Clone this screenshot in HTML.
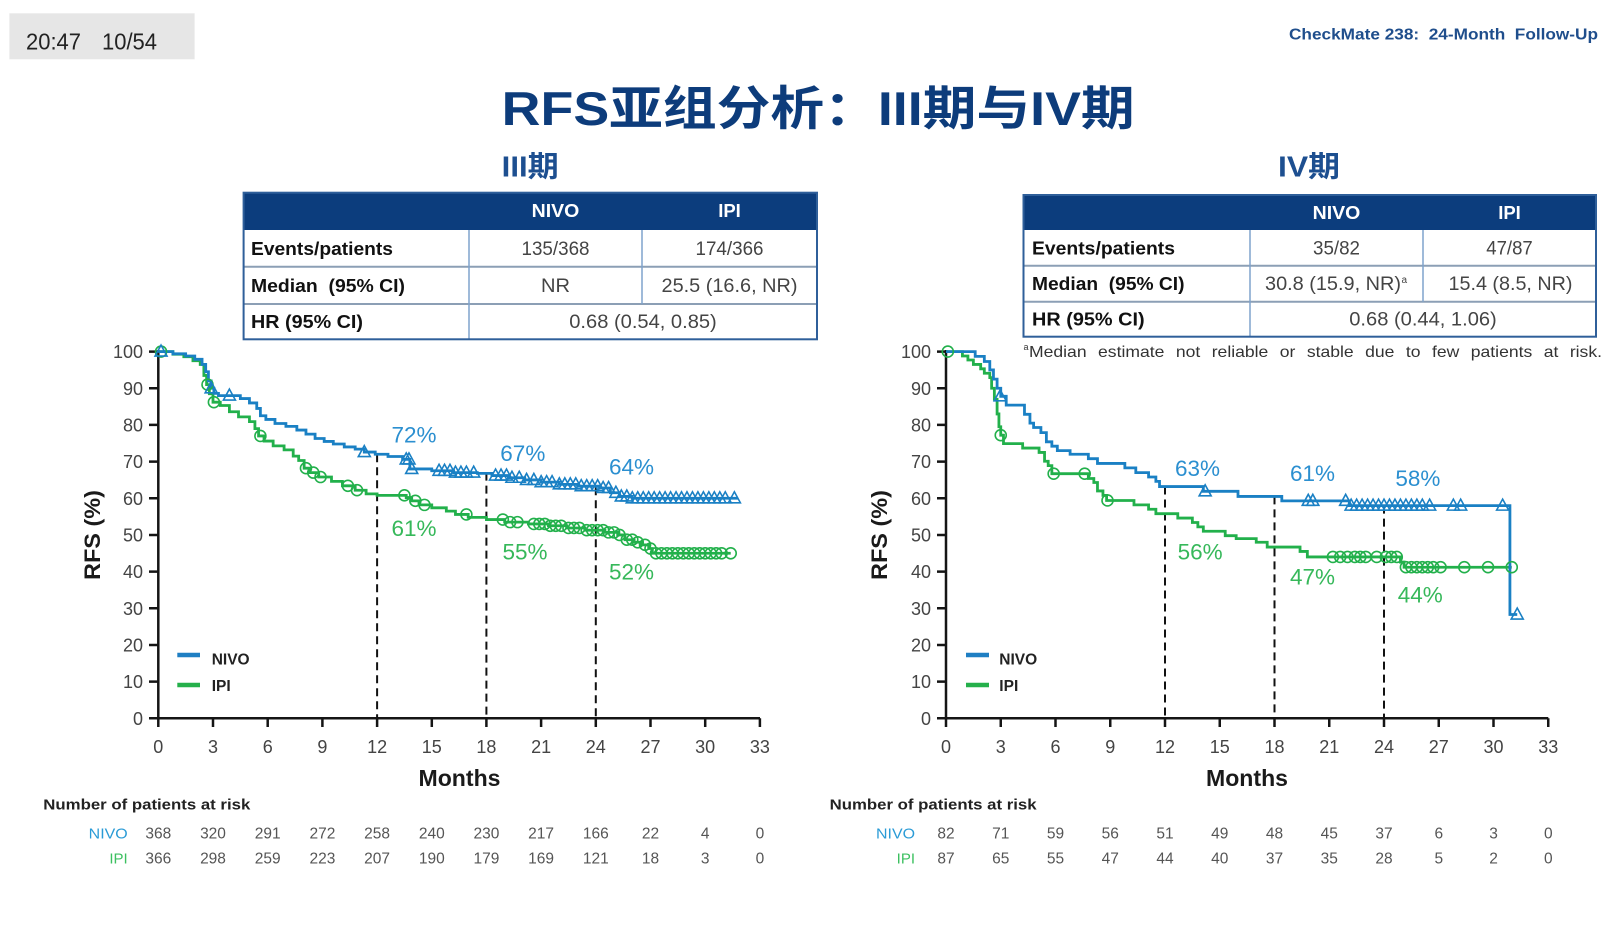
<!DOCTYPE html>
<html><head><meta charset="utf-8"><style>
html,body{margin:0;padding:0;background:#fff;}
body{width:1612px;height:931px;overflow:hidden;}
svg{display:block;}
text{font-family:"Liberation Sans","Noto Sans CJK SC",sans-serif;}
</style></head><body>
<svg width="1612" height="931" viewBox="0 0 1612 931" xmlns="http://www.w3.org/2000/svg">
<defs>
<path id="tri" d="M0,-6.5 L6,4.5 L-6,4.5 Z" fill="none" stroke="#1a80c4" stroke-width="1.6"/>
<circle id="cir" r="5.5" fill="none" stroke="#22b04b" stroke-width="1.6"/>
</defs>
<rect width="1612" height="931" fill="#fff"/>

<!-- top-left badge -->
<rect x="9.4" y="13.3" width="185.2" height="46" fill="#e6e6e6"/>
<text x="26" y="49.3" font-size="23" fill="#222" textLength="55" lengthAdjust="spacingAndGlyphs">20:47</text>
<text x="102" y="49.3" font-size="23" fill="#222" textLength="55" lengthAdjust="spacingAndGlyphs">10/54</text>

<!-- header -->
<text x="1289" y="39.5" font-size="15.5" font-weight="bold" fill="#1f4e8c" textLength="309" lengthAdjust="spacingAndGlyphs" style="white-space:pre">CheckMate 238:  24-Month  Follow-Up</text>

<!-- title -->
<text x="501.7" y="125" font-size="47" font-weight="bold" fill="#0d3c7b" textLength="633" lengthAdjust="spacingAndGlyphs">RFS亚组分析：III期与IV期</text>
<text x="501.7" y="176.5" font-size="29" font-weight="bold" fill="#1d4f90" textLength="57" lengthAdjust="spacingAndGlyphs">III期</text>
<text x="1278" y="176.5" font-size="29" font-weight="bold" fill="#1d4f90" textLength="62" lengthAdjust="spacingAndGlyphs">IV期</text>

<!-- LEFT TABLE -->
<rect x="243.6" y="192.7" width="573.4" height="37.3" fill="#0c3d7d"/>
<line x1="243.6" y1="266.7" x2="817" y2="266.7" stroke="#8c9fb5" stroke-width="2"/>
<line x1="243.6" y1="304" x2="817" y2="304" stroke="#8c9fb5" stroke-width="2"/>
<line x1="469" y1="230" x2="469" y2="339.3" stroke="#7fa3cc" stroke-width="1.5"/>
<line x1="642" y1="230" x2="642" y2="304" stroke="#7fa3cc" stroke-width="1.5"/>
<rect x="243.6" y="192.7" width="573.4" height="146.6" fill="none" stroke="#2f5f9a" stroke-width="2"/>
<text x="555.5" y="217" font-size="18.5" font-weight="bold" fill="#fff" text-anchor="middle" textLength="47.7" lengthAdjust="spacingAndGlyphs">NIVO</text>
<text x="729.5" y="217" font-size="18.5" font-weight="bold" fill="#fff" text-anchor="middle">IPI</text>
<text x="251" y="254.8" font-size="18" font-weight="bold" fill="#111" textLength="142" lengthAdjust="spacingAndGlyphs">Events/patients</text>
<text x="251" y="291.9" font-size="18" font-weight="bold" fill="#111" textLength="154" lengthAdjust="spacingAndGlyphs" style="white-space:pre">Median  (95% CI)</text>
<text x="251" y="328.2" font-size="18" font-weight="bold" fill="#111" textLength="112" lengthAdjust="spacingAndGlyphs">HR (95% CI)</text>
<g font-size="19.5" fill="#444" text-anchor="middle">
<text x="555.5" y="254.8" textLength="68" lengthAdjust="spacingAndGlyphs">135/368</text>
<text x="729.5" y="254.8" textLength="68" lengthAdjust="spacingAndGlyphs">174/366</text>
<text x="555.5" y="291.9" textLength="29" lengthAdjust="spacingAndGlyphs">NR</text>
<text x="729.5" y="291.9" textLength="136" lengthAdjust="spacingAndGlyphs">25.5 (16.6, NR)</text>
<text x="643" y="328.2" textLength="147.5" lengthAdjust="spacingAndGlyphs">0.68 (0.54, 0.85)</text>
</g>

<!-- RIGHT TABLE -->
<rect x="1023.5" y="195" width="572.5" height="35" fill="#0c3d7d"/>
<line x1="1023.5" y1="265.7" x2="1596" y2="265.7" stroke="#8c9fb5" stroke-width="2"/>
<line x1="1023.5" y1="301.7" x2="1596" y2="301.7" stroke="#8c9fb5" stroke-width="2"/>
<line x1="1250" y1="230" x2="1250" y2="336.7" stroke="#7fa3cc" stroke-width="1.5"/>
<line x1="1423" y1="230" x2="1423" y2="301.7" stroke="#7fa3cc" stroke-width="1.5"/>
<rect x="1023.5" y="195" width="572.5" height="141.7" fill="none" stroke="#2f5f9a" stroke-width="2"/>
<text x="1336.5" y="219" font-size="18.5" font-weight="bold" fill="#fff" text-anchor="middle" textLength="47.7" lengthAdjust="spacingAndGlyphs">NIVO</text>
<text x="1509.5" y="219" font-size="18.5" font-weight="bold" fill="#fff" text-anchor="middle">IPI</text>
<text x="1032" y="254.4" font-size="18" font-weight="bold" fill="#111" textLength="143" lengthAdjust="spacingAndGlyphs">Events/patients</text>
<text x="1032" y="290.2" font-size="18" font-weight="bold" fill="#111" textLength="152.5" lengthAdjust="spacingAndGlyphs" style="white-space:pre">Median  (95% CI)</text>
<text x="1032" y="325.7" font-size="18" font-weight="bold" fill="#111" textLength="112.6" lengthAdjust="spacingAndGlyphs">HR (95% CI)</text>
<g font-size="19.5" fill="#444" text-anchor="middle">
<text x="1336.5" y="254.4" textLength="47" lengthAdjust="spacingAndGlyphs">35/82</text>
<text x="1509.5" y="254.4" textLength="46.5" lengthAdjust="spacingAndGlyphs">47/87</text>
<text x="1333" y="290.2" textLength="136" lengthAdjust="spacingAndGlyphs">30.8 (15.9, NR)</text>
<text x="1401.5" y="283" font-size="10" text-anchor="start">a</text>
<text x="1510.5" y="290.2" textLength="124" lengthAdjust="spacingAndGlyphs">15.4 (8.5, NR)</text>
<text x="1423" y="325.7" textLength="147.5" lengthAdjust="spacingAndGlyphs">0.68 (0.44, 1.06)</text>
</g>
<text x="1023.5" y="350" font-size="9" fill="#333">a</text>
<text x="1029" y="357" font-size="16" fill="#333" word-spacing="6" textLength="573" lengthAdjust="spacingAndGlyphs">Median estimate not reliable or stable due to few patients at risk.</text>

<!-- ================= LEFT CHART ================= -->
<g stroke="#151515" stroke-width="2.5" fill="none">
<line x1="158.3" y1="350" x2="158.3" y2="719.5"/>
<line x1="157" y1="718.3" x2="760" y2="718.3"/>
<path d="M149,718.3H158.3M149,681.6H158.3M149,645H158.3M149,608.3H158.3M149,571.6H158.3M149,535H158.3M149,498.3H158.3M149,461.6H158.3M149,424.9H158.3M149,388.3H158.3M149,351.6H158.3"/>
<path d="M158.3,718.3V727M213,718.3V727M267.7,718.3V727M322.4,718.3V727M377.1,718.3V727M431.8,718.3V727M486.4,718.3V727M541.1,718.3V727M595.8,718.3V727M650.5,718.3V727M705.2,718.3V727M759.9,718.3V727"/>
</g>
<g stroke="#111" stroke-width="2" stroke-dasharray="8,5">
<line x1="377.1" y1="454.3" x2="377.1" y2="718"/>
<line x1="486.4" y1="472.6" x2="486.4" y2="718"/>
<line x1="595.8" y1="487.3" x2="595.8" y2="718"/>
</g>
<g font-size="18" fill="#444" text-anchor="end">
<text x="143" y="724.8">0</text><text x="143" y="688.1">10</text><text x="143" y="651.5">20</text><text x="143" y="614.8">30</text><text x="143" y="578.1">40</text><text x="143" y="541.5">50</text><text x="143" y="504.8">60</text><text x="143" y="468.1">70</text><text x="143" y="431.4">80</text><text x="143" y="394.8">90</text><text x="143" y="358.1">100</text>
</g>
<g font-size="18" fill="#444" text-anchor="middle">
<text x="158.3" y="753">0</text><text x="213" y="753">3</text><text x="267.7" y="753">6</text><text x="322.4" y="753">9</text><text x="377.1" y="753">12</text><text x="431.8" y="753">15</text><text x="486.4" y="753">18</text><text x="541.1" y="753">21</text><text x="595.8" y="753">24</text><text x="650.5" y="753">27</text><text x="705.2" y="753">30</text><text x="759.9" y="753">33</text>
</g>
<text x="459.5" y="786" font-size="23.5" font-weight="bold" fill="#1a1a1a" text-anchor="middle" textLength="82" lengthAdjust="spacingAndGlyphs">Months</text>
<text transform="translate(100,535) rotate(-90)" font-size="22" font-weight="bold" fill="#1a1a1a" text-anchor="middle" textLength="90" lengthAdjust="spacingAndGlyphs">RFS (%)</text>
<!-- legend -->
<line x1="177.3" y1="655" x2="200" y2="655" stroke="#1f7fc3" stroke-width="4.5"/>
<line x1="177.3" y1="685" x2="200" y2="685" stroke="#25b04b" stroke-width="4.5"/>
<text x="211.7" y="664.5" font-size="15.5" font-weight="bold" fill="#222">NIVO</text>
<text x="211.7" y="691" font-size="15.5" font-weight="bold" fill="#222">IPI</text>

<g transform="translate(158.3,718.3) scale(18.23,-3.667)">
<path vector-effect="non-scaling-stroke" fill="none" stroke="#22b04b" stroke-width="2.8" d="M0,100 H0.8 V99.3 H1.4 V98.6 H1.9 V97.5 H2.3 V96.5 H2.5 V93.5 H2.65 V91 H2.8 V88.5 H3.0 V86.2 H3.4 V85.3 H3.9 V83.6 H4.4 V82.2 H5.0 V80.9 H5.3 V79 H5.5 V77 H5.8 V75.6 H6.3 V74.3 H6.9 V73.2 H7.4 V71.5 H7.7 V70.3 H8.0 V68.2 H8.3 V67 H8.8 V65.8 H9.5 V64.6 H10.1 V63.4 H10.8 V62.2 H11.4 V61.2 H12.0 V60.8 H13.6 V60.2 H13.9 V59.3 H14.3 V58.2 H15.0 V57.4 H15.8 V56.5 H16.3 V55.6 H17.0 V54.8 H18.0 V54.2 H19.0 V53.5 H20.3 V53 H21.4 V52.5 H22.4 V51.9 H23.4 V51.3 H24.5 V50.7 H25.2 V50.0 H25.6 V48.7 H26.1 V48 H26.5 V47.3 H26.9 V46.3 H27.1 V45 H31.4"/>
<path vector-effect="non-scaling-stroke" fill="none" stroke="#1a80c4" stroke-width="2.8" d="M0,100 H0.8 V99.4 H1.5 V98.8 H2.0 V97.9 H2.4 V96.5 H2.6 V94.5 H2.75 V92 H2.9 V90 H3.05 V88.6 H3.3 V88 H4.5 V87.2 H5.0 V86 H5.4 V84.5 H5.6 V82.5 H5.9 V81.5 H6.4 V80.4 H7.0 V79.6 H7.6 V78.6 H8.1 V77.5 H8.6 V76.3 H9.1 V75.5 H9.6 V74.8 H10.2 V74 H10.8 V73.4 H11.3 V72.6 H11.9 V72 H12.6 V71.4 H13.4 V70.6 H13.8 V68.0 H15.0 V67.5 H16.2 V67 H17.5 V66.8 H18.3 V66.2 H19.2 V65.6 H20.1 V65 H21.0 V64.4 H22.0 V63.8 H23.0 V63.3 H24.2 V62.8 H24.8 V61.5 H25.3 V60.5 H26 V60 H31.8"/>
<!-- IPI circles -->
<use href="#cir" transform="translate(0.15,100) scale(.054855,-.272703)"/>
<use href="#cir" transform="translate(2.7,91) scale(.054855,-.272703)"/>
<use href="#cir" transform="translate(3.05,86.2) scale(.054855,-.272703)"/>
<use href="#cir" transform="translate(5.6,77) scale(.054855,-.272703)"/>
<use href="#cir" transform="translate(8.1,68.2) scale(.054855,-.272703)"/>
<use href="#cir" transform="translate(8.5,67) scale(.054855,-.272703)"/>
<use href="#cir" transform="translate(8.9,65.8) scale(.054855,-.272703)"/>
<use href="#cir" transform="translate(10.4,63.4) scale(.054855,-.272703)"/>
<use href="#cir" transform="translate(10.9,62.2) scale(.054855,-.272703)"/>
<use href="#cir" transform="translate(13.5,60.8) scale(.054855,-.272703)"/>
<use href="#cir" transform="translate(14.1,59.3) scale(.054855,-.272703)"/>
<use href="#cir" transform="translate(14.6,58.2) scale(.054855,-.272703)"/>
<use href="#cir" transform="translate(16.9,55.6) scale(.054855,-.272703)"/>
<use href="#cir" transform="translate(18.9,54.2) scale(.054855,-.272703)"/>
<use href="#cir" transform="translate(19.3,53.5) scale(.054855,-.272703)"/>
<use href="#cir" transform="translate(19.7,53.5) scale(.054855,-.272703)"/>
<use href="#cir" transform="translate(20.6,53) scale(.054855,-.272703)"/>
<use href="#cir" transform="translate(20.9,53) scale(.054855,-.272703)"/>
<use href="#cir" transform="translate(21.2,53) scale(.054855,-.272703)"/>
<use href="#cir" transform="translate(21.5,52.5) scale(.054855,-.272703)"/>
<use href="#cir" transform="translate(21.8,52.5) scale(.054855,-.272703)"/>
<use href="#cir" transform="translate(22.1,52.5) scale(.054855,-.272703)"/>
<use href="#cir" transform="translate(22.5,51.9) scale(.054855,-.272703)"/>
<use href="#cir" transform="translate(22.8,51.9) scale(.054855,-.272703)"/>
<use href="#cir" transform="translate(23.1,51.9) scale(.054855,-.272703)"/>
<use href="#cir" transform="translate(23.5,51.3) scale(.054855,-.272703)"/>
<use href="#cir" transform="translate(23.8,51.3) scale(.054855,-.272703)"/>
<use href="#cir" transform="translate(24.1,51.3) scale(.054855,-.272703)"/>
<use href="#cir" transform="translate(24.4,51.3) scale(.054855,-.272703)"/>
<use href="#cir" transform="translate(24.7,50.7) scale(.054855,-.272703)"/>
<use href="#cir" transform="translate(25.0,50.7) scale(.054855,-.272703)"/>
<use href="#cir" transform="translate(25.3,50) scale(.054855,-.272703)"/>
<use href="#cir" transform="translate(25.7,48.7) scale(.054855,-.272703)"/>
<use href="#cir" transform="translate(26.0,48.7) scale(.054855,-.272703)"/>
<use href="#cir" transform="translate(26.3,48) scale(.054855,-.272703)"/>
<use href="#cir" transform="translate(26.7,47.3) scale(.054855,-.272703)"/>
<use href="#cir" transform="translate(27.0,46.3) scale(.054855,-.272703)"/>
<use href="#cir" transform="translate(27.3,45) scale(.054855,-.272703)"/>
<use href="#cir" transform="translate(27.6,45) scale(.054855,-.272703)"/>
<use href="#cir" transform="translate(27.9,45) scale(.054855,-.272703)"/>
<use href="#cir" transform="translate(28.2,45) scale(.054855,-.272703)"/>
<use href="#cir" transform="translate(28.5,45) scale(.054855,-.272703)"/>
<use href="#cir" transform="translate(28.8,45) scale(.054855,-.272703)"/>
<use href="#cir" transform="translate(29.1,45) scale(.054855,-.272703)"/>
<use href="#cir" transform="translate(29.4,45) scale(.054855,-.272703)"/>
<use href="#cir" transform="translate(29.7,45) scale(.054855,-.272703)"/>
<use href="#cir" transform="translate(30.0,45) scale(.054855,-.272703)"/>
<use href="#cir" transform="translate(30.3,45) scale(.054855,-.272703)"/>
<use href="#cir" transform="translate(30.6,45) scale(.054855,-.272703)"/>
<use href="#cir" transform="translate(30.9,45) scale(.054855,-.272703)"/>
<use href="#cir" transform="translate(31.4,45) scale(.054855,-.272703)"/>
<!-- NIVO triangles -->
<use href="#tri" transform="translate(0.15,100) scale(.054855,-.272703)"/>
<use href="#tri" transform="translate(2.9,90) scale(.054855,-.272703)"/>
<use href="#tri" transform="translate(3.9,88) scale(.054855,-.272703)"/>
<use href="#tri" transform="translate(11.3,72.6) scale(.054855,-.272703)"/>
<use href="#tri" transform="translate(13.6,70.6) scale(.054855,-.272703)"/>
<use href="#tri" transform="translate(13.75,70.6) scale(.054855,-.272703)"/>
<use href="#tri" transform="translate(13.9,68) scale(.054855,-.272703)"/>
<use href="#tri" transform="translate(15.4,67.5) scale(.054855,-.272703)"/>
<use href="#tri" transform="translate(15.7,67.5) scale(.054855,-.272703)"/>
<use href="#tri" transform="translate(16.0,67.5) scale(.054855,-.272703)"/>
<use href="#tri" transform="translate(16.3,67) scale(.054855,-.272703)"/>
<use href="#tri" transform="translate(16.6,67) scale(.054855,-.272703)"/>
<use href="#tri" transform="translate(16.9,67) scale(.054855,-.272703)"/>
<use href="#tri" transform="translate(17.3,67) scale(.054855,-.272703)"/>
<use href="#tri" transform="translate(18.5,66.2) scale(.054855,-.272703)"/>
<use href="#tri" transform="translate(18.8,66.2) scale(.054855,-.272703)"/>
<use href="#tri" transform="translate(19.1,66.2) scale(.054855,-.272703)"/>
<use href="#tri" transform="translate(19.4,65.6) scale(.054855,-.272703)"/>
<use href="#tri" transform="translate(19.8,65.6) scale(.054855,-.272703)"/>
<use href="#tri" transform="translate(20.2,65) scale(.054855,-.272703)"/>
<use href="#tri" transform="translate(20.6,65) scale(.054855,-.272703)"/>
<use href="#tri" transform="translate(21.0,64.4) scale(.054855,-.272703)"/>
<use href="#tri" transform="translate(21.3,64.4) scale(.054855,-.272703)"/>
<use href="#tri" transform="translate(21.6,64.4) scale(.054855,-.272703)"/>
<use href="#tri" transform="translate(22.0,63.8) scale(.054855,-.272703)"/>
<use href="#tri" transform="translate(22.3,63.8) scale(.054855,-.272703)"/>
<use href="#tri" transform="translate(22.6,63.8) scale(.054855,-.272703)"/>
<use href="#tri" transform="translate(22.9,63.8) scale(.054855,-.272703)"/>
<use href="#tri" transform="translate(23.2,63.3) scale(.054855,-.272703)"/>
<use href="#tri" transform="translate(23.5,63.3) scale(.054855,-.272703)"/>
<use href="#tri" transform="translate(23.8,63.3) scale(.054855,-.272703)"/>
<use href="#tri" transform="translate(24.1,63.3) scale(.054855,-.272703)"/>
<use href="#tri" transform="translate(24.4,62.8) scale(.054855,-.272703)"/>
<use href="#tri" transform="translate(24.7,62.8) scale(.054855,-.272703)"/>
<use href="#tri" transform="translate(25.1,61.5) scale(.054855,-.272703)"/>
<use href="#tri" transform="translate(25.4,60.5) scale(.054855,-.272703)"/>
<use href="#tri" transform="translate(25.7,60.5) scale(.054855,-.272703)"/>
<use href="#tri" transform="translate(26.0,60) scale(.054855,-.272703)"/>
<use href="#tri" transform="translate(26.3,60) scale(.054855,-.272703)"/>
<use href="#tri" transform="translate(26.6,60) scale(.054855,-.272703)"/>
<use href="#tri" transform="translate(26.9,60) scale(.054855,-.272703)"/>
<use href="#tri" transform="translate(27.2,60) scale(.054855,-.272703)"/>
<use href="#tri" transform="translate(27.5,60) scale(.054855,-.272703)"/>
<use href="#tri" transform="translate(27.8,60) scale(.054855,-.272703)"/>
<use href="#tri" transform="translate(28.1,60) scale(.054855,-.272703)"/>
<use href="#tri" transform="translate(28.4,60) scale(.054855,-.272703)"/>
<use href="#tri" transform="translate(28.7,60) scale(.054855,-.272703)"/>
<use href="#tri" transform="translate(29.0,60) scale(.054855,-.272703)"/>
<use href="#tri" transform="translate(29.3,60) scale(.054855,-.272703)"/>
<use href="#tri" transform="translate(29.6,60) scale(.054855,-.272703)"/>
<use href="#tri" transform="translate(29.9,60) scale(.054855,-.272703)"/>
<use href="#tri" transform="translate(30.2,60) scale(.054855,-.272703)"/>
<use href="#tri" transform="translate(30.5,60) scale(.054855,-.272703)"/>
<use href="#tri" transform="translate(30.8,60) scale(.054855,-.272703)"/>
<use href="#tri" transform="translate(31.1,60) scale(.054855,-.272703)"/>
<use href="#tri" transform="translate(31.6,60) scale(.054855,-.272703)"/>
</g>
<g font-size="22.5">
<text x="391.5" y="442.5" fill="#2b8fd0">72%</text>
<text x="500.3" y="461" fill="#2b8fd0">67%</text>
<text x="609" y="474.5" fill="#2b8fd0">64%</text>
<text x="391.5" y="536" fill="#36b85a">61%</text>
<text x="502.5" y="559.5" fill="#36b85a">55%</text>
<text x="609" y="579.5" fill="#36b85a">52%</text>
</g>
<!-- risk table left -->
<text x="43.3" y="809.3" font-size="15" font-weight="bold" fill="#222" textLength="207" lengthAdjust="spacingAndGlyphs">Number of patients at risk</text>
<text x="127.7" y="838.3" font-size="15" fill="#2a9bd6" text-anchor="end" textLength="39" lengthAdjust="spacingAndGlyphs">NIVO</text>
<text x="127.7" y="863.3" font-size="15" fill="#3cc060" text-anchor="end">IPI</text>
<g font-size="15.5" fill="#555" text-anchor="middle">
<text x="158.3" y="838.3">368</text><text x="213" y="838.3">320</text><text x="267.7" y="838.3">291</text><text x="322.4" y="838.3">272</text><text x="377.1" y="838.3">258</text><text x="431.8" y="838.3">240</text><text x="486.4" y="838.3">230</text><text x="541.1" y="838.3">217</text><text x="595.8" y="838.3">166</text><text x="650.5" y="838.3">22</text><text x="705.2" y="838.3">4</text><text x="759.9" y="838.3">0</text>
<text x="158.3" y="863.3">366</text><text x="213" y="863.3">298</text><text x="267.7" y="863.3">259</text><text x="322.4" y="863.3">223</text><text x="377.1" y="863.3">207</text><text x="431.8" y="863.3">190</text><text x="486.4" y="863.3">179</text><text x="541.1" y="863.3">169</text><text x="595.8" y="863.3">121</text><text x="650.5" y="863.3">18</text><text x="705.2" y="863.3">3</text><text x="759.9" y="863.3">0</text>
</g>

<!-- ================= RIGHT CHART ================= -->
<g stroke="#151515" stroke-width="2.5" fill="none">
<line x1="946" y1="350" x2="946" y2="719.5"/>
<line x1="944.7" y1="718.3" x2="1548.3" y2="718.3"/>
<path d="M937,718.3H946M937,681.6H946M937,645H946M937,608.3H946M937,571.6H946M937,535H946M937,498.3H946M937,461.6H946M937,424.9H946M937,388.3H946M937,351.6H946"/>
<path d="M946,718.3V727M1000.75,718.3V727M1055.5,718.3V727M1110.25,718.3V727M1165,718.3V727M1219.75,718.3V727M1274.5,718.3V727M1329.25,718.3V727M1384,718.3V727M1438.75,718.3V727M1493.5,718.3V727M1548.25,718.3V727"/>
</g>
<g stroke="#111" stroke-width="2" stroke-dasharray="8,5">
<line x1="1165" y1="486.5" x2="1165" y2="718"/>
<line x1="1274.5" y1="496.4" x2="1274.5" y2="718"/>
<line x1="1384" y1="505.6" x2="1384" y2="718"/>
</g>
<g font-size="18" fill="#444" text-anchor="end">
<text x="931" y="724.8">0</text><text x="931" y="688.1">10</text><text x="931" y="651.5">20</text><text x="931" y="614.8">30</text><text x="931" y="578.1">40</text><text x="931" y="541.5">50</text><text x="931" y="504.8">60</text><text x="931" y="468.1">70</text><text x="931" y="431.4">80</text><text x="931" y="394.8">90</text><text x="931" y="358.1">100</text>
</g>
<g font-size="18" fill="#444" text-anchor="middle">
<text x="946" y="753">0</text><text x="1000.75" y="753">3</text><text x="1055.5" y="753">6</text><text x="1110.25" y="753">9</text><text x="1165" y="753">12</text><text x="1219.75" y="753">15</text><text x="1274.5" y="753">18</text><text x="1329.25" y="753">21</text><text x="1384" y="753">24</text><text x="1438.75" y="753">27</text><text x="1493.5" y="753">30</text><text x="1548.25" y="753">33</text>
</g>
<text x="1247" y="786" font-size="23.5" font-weight="bold" fill="#1a1a1a" text-anchor="middle" textLength="82" lengthAdjust="spacingAndGlyphs">Months</text>
<text transform="translate(887,535) rotate(-90)" font-size="22" font-weight="bold" fill="#1a1a1a" text-anchor="middle" textLength="90" lengthAdjust="spacingAndGlyphs">RFS (%)</text>
<line x1="966" y1="655" x2="989" y2="655" stroke="#1f7fc3" stroke-width="4.5"/>
<line x1="966" y1="685" x2="989" y2="685" stroke="#25b04b" stroke-width="4.5"/>
<text x="999.3" y="664.5" font-size="15.5" font-weight="bold" fill="#222">NIVO</text>
<text x="999.3" y="691" font-size="15.5" font-weight="bold" fill="#222">IPI</text>

<g transform="translate(946,718.3) scale(18.25,-3.667)">
<path vector-effect="non-scaling-stroke" fill="none" stroke="#22b04b" stroke-width="2.8" d="M0,100 H0.9 V98.8 H1.2 V97.7 H1.5 V96.5 H1.9 V95.3 H2.1 V94.1 H2.4 V92.9 H2.5 V90 H2.65 V87 H2.8 V83 H2.9 V79.5 H3.0 V77.2 H3.15 V74.9 H4.2 V73.7 H5.1 V72.5 H5.4 V70.1 H5.6 V68.9 H5.8 V66.7 H7.8 V65.4 H8.1 V64.3 H8.3 V62.0 H8.6 V60.8 H8.8 V59.4 H10.3 V58.2 H11.1 V57.0 H11.5 V55.8 H12.7 V54.6 H13.5 V53.4 H13.8 V52.2 H14.1 V51.0 H15.3 V49.8 H15.9 V49.0 H17.0 V48.0 H17.6 V46.7 H19.4 V45.5 H19.8 V44.0 H24.9 V42.6 H25.1 V41.2 H31.0"/>
<path vector-effect="non-scaling-stroke" fill="none" stroke="#1a80c4" stroke-width="2.8" d="M0,100 H1.6 V98.7 H2.1 V97.3 H2.4 V95 H2.6 V92.5 H2.8 V90 H3.0 V87.8 H3.3 V85.4 H4.3 V82.9 H4.6 V80.5 H4.8 V79.3 H5.2 V77.9 H5.5 V75.4 H5.8 V74.2 H6.1 V73.0 H6.8 V72.0 H7.8 V70.8 H8.3 V69.5 H9.8 V68.3 H10.4 V67.0 H11.1 V65.8 H11.5 V64.6 H11.7 V63.2 H14.1 V61.9 H16.0 V60.5 H18.4 V59.3 H22.1 V58.0 H30.9 V28.3 H31.3"/>
<use href="#cir" transform="translate(0.1,100) scale(.054795,-.272703)"/>
<use href="#cir" transform="translate(3.0,77.2) scale(.054795,-.272703)"/>
<use href="#cir" transform="translate(5.9,66.7) scale(.054795,-.272703)"/>
<use href="#cir" transform="translate(7.6,66.7) scale(.054795,-.272703)"/>
<use href="#cir" transform="translate(8.85,59.4) scale(.054795,-.272703)"/>
<use href="#cir" transform="translate(21.2,44) scale(.054795,-.272703)"/>
<use href="#cir" transform="translate(21.6,44) scale(.054795,-.272703)"/>
<use href="#cir" transform="translate(22.0,44) scale(.054795,-.272703)"/>
<use href="#cir" transform="translate(22.4,44) scale(.054795,-.272703)"/>
<use href="#cir" transform="translate(22.7,44) scale(.054795,-.272703)"/>
<use href="#cir" transform="translate(23.0,44) scale(.054795,-.272703)"/>
<use href="#cir" transform="translate(23.6,44) scale(.054795,-.272703)"/>
<use href="#cir" transform="translate(24.1,44) scale(.054795,-.272703)"/>
<use href="#cir" transform="translate(24.4,44) scale(.054795,-.272703)"/>
<use href="#cir" transform="translate(24.7,44) scale(.054795,-.272703)"/>
<use href="#cir" transform="translate(25.2,41.2) scale(.054795,-.272703)"/>
<use href="#cir" transform="translate(25.5,41.2) scale(.054795,-.272703)"/>
<use href="#cir" transform="translate(25.8,41.2) scale(.054795,-.272703)"/>
<use href="#cir" transform="translate(26.1,41.2) scale(.054795,-.272703)"/>
<use href="#cir" transform="translate(26.4,41.2) scale(.054795,-.272703)"/>
<use href="#cir" transform="translate(26.7,41.2) scale(.054795,-.272703)"/>
<use href="#cir" transform="translate(27.1,41.2) scale(.054795,-.272703)"/>
<use href="#cir" transform="translate(28.4,41.2) scale(.054795,-.272703)"/>
<use href="#cir" transform="translate(29.7,41.2) scale(.054795,-.272703)"/>
<use href="#cir" transform="translate(31.0,41.2) scale(.054795,-.272703)"/>
<use href="#tri" transform="translate(2.97,87.8) scale(.054795,-.272703)"/>
<use href="#tri" transform="translate(14.2,61.9) scale(.054795,-.272703)"/>
<use href="#tri" transform="translate(19.85,59.3) scale(.054795,-.272703)"/>
<use href="#tri" transform="translate(20.1,59.3) scale(.054795,-.272703)"/>
<use href="#tri" transform="translate(21.9,59.3) scale(.054795,-.272703)"/>
<use href="#tri" transform="translate(22.2,58) scale(.054795,-.272703)"/>
<use href="#tri" transform="translate(22.5,58) scale(.054795,-.272703)"/>
<use href="#tri" transform="translate(22.8,58) scale(.054795,-.272703)"/>
<use href="#tri" transform="translate(23.1,58) scale(.054795,-.272703)"/>
<use href="#tri" transform="translate(23.4,58) scale(.054795,-.272703)"/>
<use href="#tri" transform="translate(23.7,58) scale(.054795,-.272703)"/>
<use href="#tri" transform="translate(24.0,58) scale(.054795,-.272703)"/>
<use href="#tri" transform="translate(24.3,58) scale(.054795,-.272703)"/>
<use href="#tri" transform="translate(24.6,58) scale(.054795,-.272703)"/>
<use href="#tri" transform="translate(24.9,58) scale(.054795,-.272703)"/>
<use href="#tri" transform="translate(25.2,58) scale(.054795,-.272703)"/>
<use href="#tri" transform="translate(25.5,58) scale(.054795,-.272703)"/>
<use href="#tri" transform="translate(25.8,58) scale(.054795,-.272703)"/>
<use href="#tri" transform="translate(26.1,58) scale(.054795,-.272703)"/>
<use href="#tri" transform="translate(26.5,58) scale(.054795,-.272703)"/>
<use href="#tri" transform="translate(27.8,58) scale(.054795,-.272703)"/>
<use href="#tri" transform="translate(28.2,58) scale(.054795,-.272703)"/>
<use href="#tri" transform="translate(30.5,58) scale(.054795,-.272703)"/>
<use href="#tri" transform="translate(31.3,28.3) scale(.054795,-.272703)"/>
</g>
<g font-size="22.5">
<text x="1175" y="476" fill="#2b8fd0">63%</text>
<text x="1290" y="481" fill="#2b8fd0">61%</text>
<text x="1395.4" y="486" fill="#2b8fd0">58%</text>
<text x="1177.6" y="559.5" fill="#36b85a">56%</text>
<text x="1290" y="584.5" fill="#36b85a">47%</text>
<text x="1397.7" y="602.5" fill="#36b85a">44%</text>
</g>
<text x="829.6" y="809.3" font-size="15" font-weight="bold" fill="#222" textLength="207" lengthAdjust="spacingAndGlyphs">Number of patients at risk</text>
<text x="915" y="838.3" font-size="15" fill="#2a9bd6" text-anchor="end" textLength="39" lengthAdjust="spacingAndGlyphs">NIVO</text>
<text x="915" y="863.3" font-size="15" fill="#3cc060" text-anchor="end">IPI</text>
<g font-size="15.5" fill="#555" text-anchor="middle">
<text x="946" y="838.3">82</text><text x="1000.75" y="838.3">71</text><text x="1055.5" y="838.3">59</text><text x="1110.25" y="838.3">56</text><text x="1165" y="838.3">51</text><text x="1219.75" y="838.3">49</text><text x="1274.5" y="838.3">48</text><text x="1329.25" y="838.3">45</text><text x="1384" y="838.3">37</text><text x="1438.75" y="838.3">6</text><text x="1493.5" y="838.3">3</text><text x="1548.25" y="838.3">0</text>
<text x="946" y="863.3">87</text><text x="1000.75" y="863.3">65</text><text x="1055.5" y="863.3">55</text><text x="1110.25" y="863.3">47</text><text x="1165" y="863.3">44</text><text x="1219.75" y="863.3">40</text><text x="1274.5" y="863.3">37</text><text x="1329.25" y="863.3">35</text><text x="1384" y="863.3">28</text><text x="1438.75" y="863.3">5</text><text x="1493.5" y="863.3">2</text><text x="1548.25" y="863.3">0</text>
</g>
</svg>
</body></html>
